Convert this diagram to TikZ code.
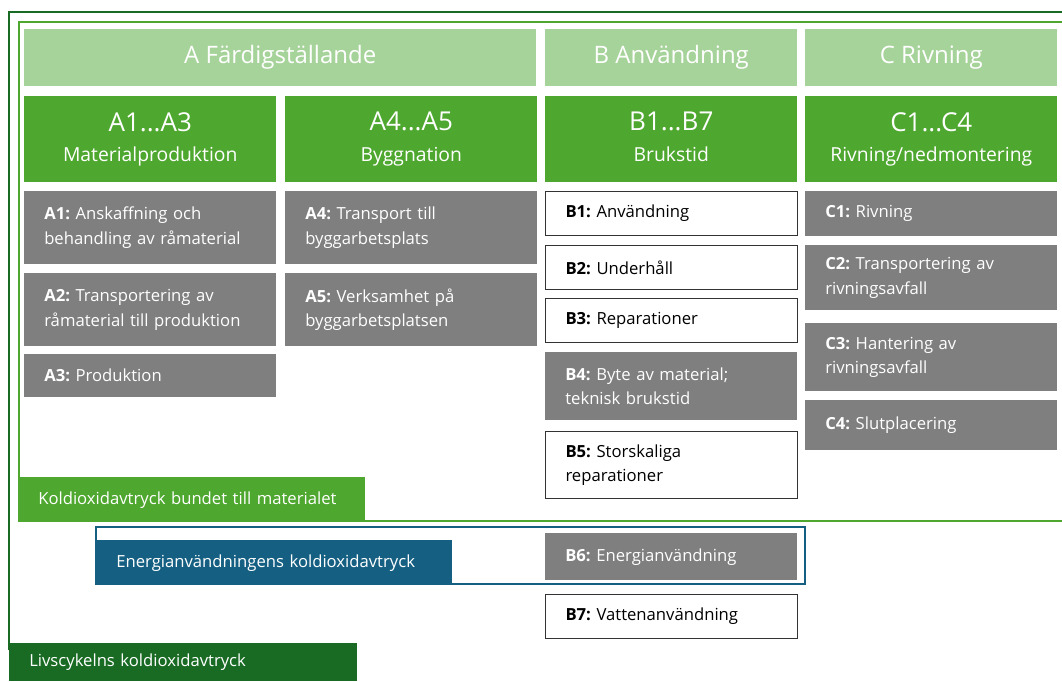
\documentclass[tikz,border=0pt]{standalone}
\usepackage{fontspec}
\setmainfont{Open Sans}
\frenchspacing
\definecolor{headgreen}{HTML}{A6D39A}
\definecolor{phasegreen}{HTML}{4EA72E}
\definecolor{lifegreen}{HTML}{196B24}
\definecolor{energyblue}{HTML}{156082}
\definecolor{stepgray}{HTML}{7F7F7F}
\begin{document}
\begin{tikzpicture}[x=0.75pt,y=-0.75pt,
    head/.style={fill=headgreen, text=white, anchor=north west, inner sep=0pt,
      minimum width=189pt, minimum height=42.75pt, font=\fontsize{18}{20}\selectfont},
    phase/.style={fill=phasegreen, text=white, anchor=north west, inner sep=0pt, align=center,
      minimum width=189pt, minimum height=64.5pt, font=\fontsize{14.5}{23}\selectfont},
    stepgraybox/.style={fill=stepgray, text=white, anchor=north west, inner xsep=15pt, inner ysep=0pt,
      text width=159pt, align=left, font=\fontsize{12.5}{18.5}\selectfont},
    stepwhitebox/.style={stepgraybox, fill=white, text=black, draw=black!80, line width=0.75pt},
    keylabel/.style={anchor=north west, text=white, inner xsep=15pt, inner ysep=0pt,
      align=left, font=\fontsize{12.5}{15}\selectfont}]
  \useasboundingbox (0,0) rectangle (1062,681);

  % Frames
  \draw[lifegreen, line width=1.5pt] (1062,12) -- (9,12) -- (9,650);
  \draw[phasegreen, line width=1.5pt] (1062,22) -- (19,22) -- (19,500);
  \draw[phasegreen, line width=1.5pt] (360,521) -- (1062,521);
  \draw[energyblue, line width=1.2pt] (96,527) rectangle (805,584);

  % Stages
  \node[head, minimum width=384pt] (hA) at (24,29) {A Färdigställande};
  \node[head] (hB) at (545,29) {B Användning};
  \node[head] (hC) at (805,29) {C Rivning};

  \node[phase] (pA13) at (24,96) {{\fontsize{19.5}{20}\selectfont A1...A3}\\Materialproduktion\vphantom{gp/}};
  \node[phase] (pA45) at (285,96) {{\fontsize{19.5}{20}\selectfont A4...A5}\\Byggnation\vphantom{gp/}};
  \node[phase] (pB17) at (545,96) {{\fontsize{19.5}{20}\selectfont B1...B7}\\Brukstid\vphantom{gp/}};
  \node[phase] (pC14) at (805,96) {{\fontsize{19.5}{20}\selectfont C1...C4}\\Rivning/nedmontering\vphantom{gp/}};

  % A modules
  \node[stepgraybox, minimum height=54.75pt] (a1) at (24,191)
    {\textbf{A1:} Anskaffning och\\behandling av råmaterial};
  \node[stepgraybox, minimum height=54.75pt] (a2) at (24,273)
    {\textbf{A2:} Transportering av\\råmaterial till produktion};
  \node[stepgraybox, minimum height=32.25pt] (a3) at (24,354) {\textbf{A3:} Produktion};
  \node[stepgraybox, minimum height=54.75pt] (a4) at (285,191)
    {\textbf{A4:} Transport till\\byggarbetsplats};
  \node[stepgraybox, minimum height=54.75pt] (a5) at (285,273)
    {\textbf{A5:} Verksamhet på\\byggarbetsplatsen};

  % B modules
  \node[stepwhitebox, minimum height=33pt] (b1) at (545,191) {\textbf{B1:} Användning};
  \node[stepwhitebox, minimum height=33pt] (b2) at (545,245) {\textbf{B2:} Underhåll};
  \node[stepwhitebox, minimum height=33pt] (b3) at (545,298) {\textbf{B3:} Reparationer};
  \node[stepgraybox, minimum height=51pt] (b4) at (545,352)
    {\textbf{B4:} Byte av material;\\teknisk brukstid};
  \node[stepwhitebox, minimum height=50.25pt] (b5) at (545,431)
    {\textbf{B5:} Storskaliga\\reparationer};
  \node[stepgraybox, minimum height=35.25pt] (b6) at (545,533) {\textbf{B6:} Energianvändning};
  \node[stepwhitebox, minimum height=33pt] (b7) at (545,594) {\textbf{B7:} Vattenanvändning};

  % C modules
  \node[stepgraybox, minimum height=33.75pt] (c1) at (805,191) {\textbf{C1:} Rivning};
  \node[stepgraybox, minimum height=48.75pt] (c2) at (805,245)
    {\textbf{C2:} Transportering av\\rivningsavfall};
  \node[stepgraybox, minimum height=51pt] (c3) at (805,323)
    {\textbf{C3:} Hantering av\\rivningsavfall};
  \node[stepgraybox, minimum height=37.5pt] (c4) at (805,400) {\textbf{C4:} Slutplacering};

  % Footprint labels
  \node[keylabel, fill=phasegreen, text width=230.25pt, minimum height=33.75pt] (kMat) at (18,477)
    {Koldioxidavtryck bundet till materialet};
  \node[keylabel, fill=energyblue, text width=237pt, minimum height=33.75pt] (kEnergy) at (96,540)
    {Energianvändningens koldioxidavtryck};
  \node[keylabel, fill=lifegreen, text width=231pt, minimum height=28.5pt] (kLife) at (9,643)
    {Livscykelns koldioxidavtryck};
\end{tikzpicture}
\end{document}
